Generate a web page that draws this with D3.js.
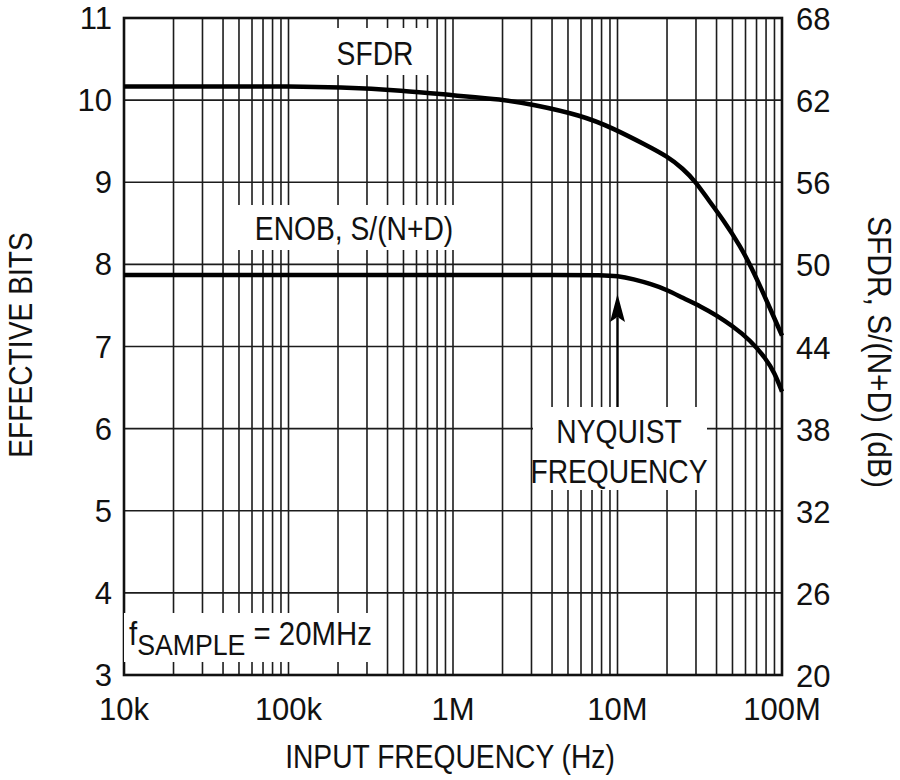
<!DOCTYPE html>
<html>
<head>
<meta charset="utf-8">
<script src="https://cdn.jsdelivr.net/npm/d3@7"></script>
<style>
  body { margin: 0; background: #fff; }
  svg { display: block; }
  .tick-label { font-family: "Liberation Sans", Arial, sans-serif; font-size: 31px; fill: #111; }
  .label { font-family: "Liberation Sans", Arial, sans-serif; font-size: 34px; fill: #111; }
</style>
</head>
<body>
<svg width="900" height="780"></svg>
<script>
// x axis: input frequency (Hz), log scale
const xTickValues = [1e4, 1e5, 1e6, 1e7, 1e8];
const xTickLabels = ["10k", "100k", "1M", "10M", "100M"];

// left axis: effective bits, right axis: dB
const bitsTicks = [3, 4, 5, 6, 7, 8, 9, 10, 11];
const dbTicks = [20, 26, 32, 38, 44, 50, 56, 62, 68];

const sfdrFreq = [1e4, 2e4, 5e4, 1e5, 2e5, 5e5, 1e6, 2e6, 3e6, 6e6, 9.4e6, 1.5e7, 2e7, 2.5e7, 3e7, 3.5e7, 4.4e7, 5.6e7, 6.5e7, 7.7e7, 1e8];
const sfdrDb   = [63.0, 63.0, 63.0, 63.0, 62.95, 62.7, 62.35, 62.05, 61.7, 60.9, 59.95, 58.7, 57.9, 57.0, 56.0, 54.85, 53.25, 51.3, 49.8, 47.9, 44.8];

const enobFreq = [1e4, 1e5, 1e6, 5e6, 8e6, 1e7, 1.25e7, 1.6e7, 2e7, 2.5e7, 3.2e7, 4e7, 5e7, 6.4e7, 8e7, 9e7, 1e8];
const enobBits = [7.87, 7.87, 7.87, 7.87, 7.87, 7.86, 7.82, 7.76, 7.69, 7.59, 7.49, 7.38, 7.25, 7.08, 6.85, 6.68, 6.45];

const svg = d3.select("svg");
const plotLeft = 124, plotTop = 18, width = 658, height = 657;
const g = svg.append("g").attr("transform", `translate(${plotLeft},${plotTop})`);

const x = d3.scaleLog().domain([1e4, 1e8]).range([0, width]);
const yBits = d3.scaleLinear().domain([3, 11]).range([height, 0]);
const yDb = d3.scaleLinear().domain([20, 68]).range([height, 0]);

const gridColor = "#1c1c1c";
const squeeze = 0.83; // the original face is a condensed sans

// vertical grid, 1..9 per decade
g.append("g").selectAll("line")
  .data(x.ticks())
  .join("line")
  .attr("x1", d => x(d)).attr("x2", d => x(d))
  .attr("y1", 0).attr("y2", height)
  .attr("stroke", gridColor).attr("stroke-width", 1.6);

// horizontal grid
g.append("g").selectAll("line")
  .data(bitsTicks)
  .join("line")
  .attr("x1", 0).attr("x2", width)
  .attr("y1", d => yBits(d)).attr("y2", d => yBits(d))
  .attr("stroke", gridColor).attr("stroke-width", 1.6);

// white boxes behind the labels
const boxes = [
  [335, 28, 95, 47],
  [238, 205, 222, 45],
  [533, 407, 174, 83],
  [124, 613, 256, 49]
];
svg.append("g").selectAll("rect")
  .data(boxes)
  .join("rect")
  .attr("x", d => d[0]).attr("y", d => d[1])
  .attr("width", d => d[2]).attr("height", d => d[3])
  .attr("fill", "#fff");

// border
g.append("rect")
  .attr("width", width).attr("height", height)
  .attr("fill", "none").attr("stroke", "#111").attr("stroke-width", 2.6);

// curves
const sfdrLine = d3.line()
  .x(d => x(d[0])).y(d => yDb(d[1]))
  .curve(d3.curveBasis);
const enobLine = d3.line()
  .x(d => x(d[0])).y(d => yBits(d[1]))
  .curve(d3.curveBasis);

g.append("path")
  .datum(d3.zip(sfdrFreq, sfdrDb))
  .attr("d", sfdrLine)
  .attr("fill", "none").attr("stroke", "#000").attr("stroke-width", 4.5);

g.append("path")
  .datum(d3.zip(enobFreq, enobBits))
  .attr("d", enobLine)
  .attr("fill", "none").attr("stroke", "#000").attr("stroke-width", 4.5);

// Nyquist arrow at 10MHz
const ax = plotLeft + x(1e7);
svg.append("line")
  .attr("x1", ax).attr("x2", ax)
  .attr("y1", 407).attr("y2", 318)
  .attr("stroke", "#000").attr("stroke-width", 2.2);
svg.append("path")
  .attr("d", `M${ax},294 L${ax - 7.5},322 L${ax},317 L${ax + 7.5},322 Z`)
  .attr("fill", "#000");

// tick labels
svg.append("g").selectAll("text")
  .data(bitsTicks)
  .join("text")
  .attr("class", "tick-label")
  .attr("x", 112).attr("y", d => plotTop + yBits(d) + 11)
  .attr("text-anchor", "end")
  .text(d => d);

svg.append("g").selectAll("text")
  .data(dbTicks)
  .join("text")
  .attr("class", "tick-label")
  .attr("x", 796).attr("y", d => plotTop + yDb(d) + 12)
  .attr("text-anchor", "start")
  .text(d => d);

svg.append("g").selectAll("text")
  .data(xTickValues)
  .join("text")
  .attr("class", "tick-label")
  .attr("x", d => plotLeft + x(d)).attr("y", 720)
  .attr("text-anchor", "middle")
  .text((d, i) => xTickLabels[i]);

// condensed label helper
function label(str, px, py, rot = 0, sx = squeeze) {
  return svg.append("text").attr("class", "label")
    .attr("transform", `translate(${px},${py}) rotate(${rot}) scale(${sx},1)`)
    .attr("text-anchor", "middle")
    .text(str);
}

// axis titles
label("INPUT FREQUENCY (Hz)", 450, 768);
label("EFFECTIVE BITS", 32, 345, -90);
label("SFDR, S/(N+D) (dB)", 868, 352, 90, 0.88);

// curve labels
label("SFDR", 375, 65);
label("ENOB, S/(N+D)", 354, 240);
label("NYQUIST", 619, 443);
label("FREQUENCY", 619, 483);

// f_SAMPLE note
const note = svg.append("text").attr("class", "label")
  .attr("transform", "translate(129,645) scale(0.89,1)")
  .style("font-size", "33px");
note.append("tspan").text("f");
note.append("tspan").attr("dy", 10).style("font-size", "30px").text("SAMPLE");
note.append("tspan").attr("dy", -10).text(" = 20MHz");
</script>
</body>
</html>
